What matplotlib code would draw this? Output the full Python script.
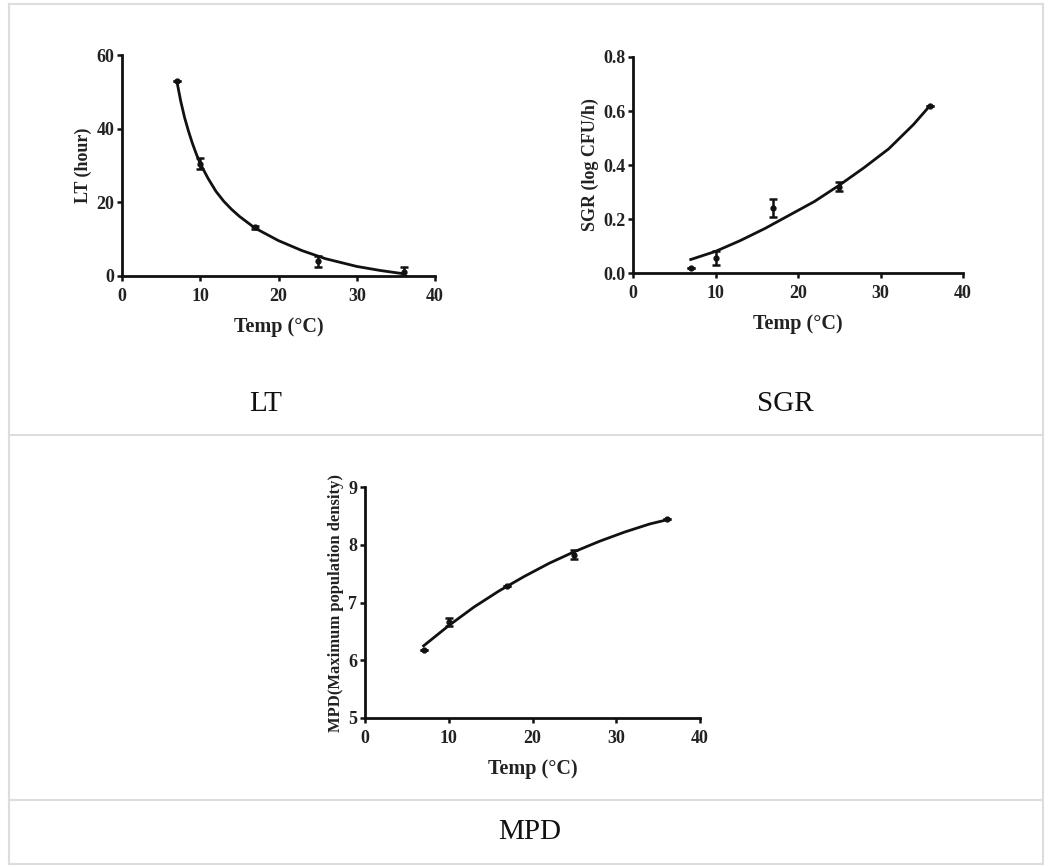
import matplotlib
matplotlib.use("Agg")
import matplotlib.pyplot as plt
from matplotlib.lines import Line2D

# measured points (mean, sd) at each temperature
temp = [7, 10, 17, 25, 36]

lt_vals = [53.0, 30.5, 13.2, 4.0, 1.2]
lt_err = [0.0, 1.5, 0.5, 1.5, 1.3]

sgr_vals = [0.017, 0.055, 0.24, 0.32, 0.618]
sgr_err = [0.0, 0.025, 0.033, 0.017, 0.0]

mpd_vals = [6.17, 6.67, 7.28, 7.83, 8.44]
mpd_err = [0.0, 0.07, 0.0, 0.08, 0.0]

# fitted model lines
lt_fit_x = [7, 7.5, 8, 8.5, 9, 9.5, 10, 11, 12, 13, 14, 15, 17, 20, 23, 26, 30, 33, 36]
lt_fit_y = [53, 47.5, 43, 39.3, 36, 33.1, 30.5, 26.5, 23, 20.3, 18.1, 16.2, 13.0,
            9.6, 6.9, 4.7, 2.6, 1.5, 0.6]

sgr_fit_x = [7, 10, 13, 16, 19, 22, 25, 28, 31, 34, 36]
sgr_fit_y = [0.05, 0.08, 0.12, 0.165, 0.215, 0.265, 0.325, 0.39, 0.46, 0.55, 0.62]

mpd_fit_x = [7, 10, 13, 16, 19, 22, 25, 28, 31, 34, 36]
mpd_fit_y = [6.25, 6.6, 6.92, 7.2, 7.45, 7.68, 7.88, 8.06, 8.22, 8.36, 8.43]

captions = ["LT", "SGR", "MPD"]

W, H = 1059, 867
fig = plt.figure(figsize=(W / 100, H / 100), dpi=100)

serif = ["Liberation Serif", "DejaVu Serif"]


def px(x0, y0, x1, y1):
    # pixel box -> figure fractions
    return [x0 / W, 1 - y1 / H, (x1 - x0) / W, (y1 - y0) / H]


def panel(rect, vals, err, fx, fy, ylim, yticks, ylabel, yfmt, ysize=13):
    ax = fig.add_axes(rect)
    ax.plot(fx, fy, color="#111111", lw=2.0, zorder=2)
    ax.errorbar(temp, vals, yerr=err, fmt="o", color="#111111", ms=3.5,
                elinewidth=1.8, capsize=3, capthick=1.8, zorder=3)
    ax.set_xlim(0, 40)
    ax.set_ylim(*ylim)
    ax.set_xticks([0, 10, 20, 30, 40])
    ax.set_yticks(yticks)
    ax.set_yticklabels([yfmt.format(v) for v in yticks])
    for s in ["top", "right"]:
        ax.spines[s].set_visible(False)
    for s in ["left", "bottom"]:
        ax.spines[s].set_linewidth(2.0)
        ax.spines[s].set_color("#111111")
    ax.tick_params(direction="out", length=3.5, width=1.8, colors="#111111",
                   labelsize=13, pad=2)
    ax.tick_params(axis="x", pad=5)
    for lab in ax.get_xticklabels() + ax.get_yticklabels():
        lab.set_fontfamily(serif)
        lab.set_fontweight("bold")
        lab.set_color("#222222")
    ax.set_xlabel("Temp (°C)", family=serif, weight="bold", size=14.5,
                  color="#222222", labelpad=9)
    ax.set_ylabel(ylabel, family=serif, weight="bold", size=ysize,
                  color="#222222", labelpad=3)
    ax.patch.set_alpha(0)
    return ax


panel(px(122, 55, 435, 276), lt_vals, lt_err, lt_fit_x, lt_fit_y,
      (0, 60), [0, 20, 40, 60], "LT (hour)", "{:.0f}")
panel(px(633, 57, 963, 273), sgr_vals, sgr_err, sgr_fit_x, sgr_fit_y,
      (0, 0.8), [0.0, 0.2, 0.4, 0.6, 0.8], "SGR (log CFU/h)", "{:.1f}")
panel(px(365, 487, 700, 718), mpd_vals, mpd_err, mpd_fit_x, mpd_fit_y,
      (5, 9), [5, 6, 7, 8, 9], "MPD(Maximum population density)", "{:.0f}",
      ysize=12)

# table frame
grey = "#dddddd"
lines = [
    ((9, 1043), (4, 4)), ((9, 1043), (435, 435)), ((9, 1043), (800, 800)),
    ((9, 1043), (864, 864)), ((9, 9), (4, 864)), ((1043, 1043), (4, 864)),
]
for xs, ys in lines:
    fig.add_artist(Line2D([x / W for x in xs], [1 - y / H for y in ys],
                          color=grey, lw=1.5))

# captions
for text, (cx, cy) in zip(captions, [(266, 404), (785, 404), (530, 832)]):
    fig.text(cx / W, 1 - cy / H, text, family=serif, size=21,
             ha="center", va="center", color="#111111")

fig.savefig("out.png", dpi=100)
